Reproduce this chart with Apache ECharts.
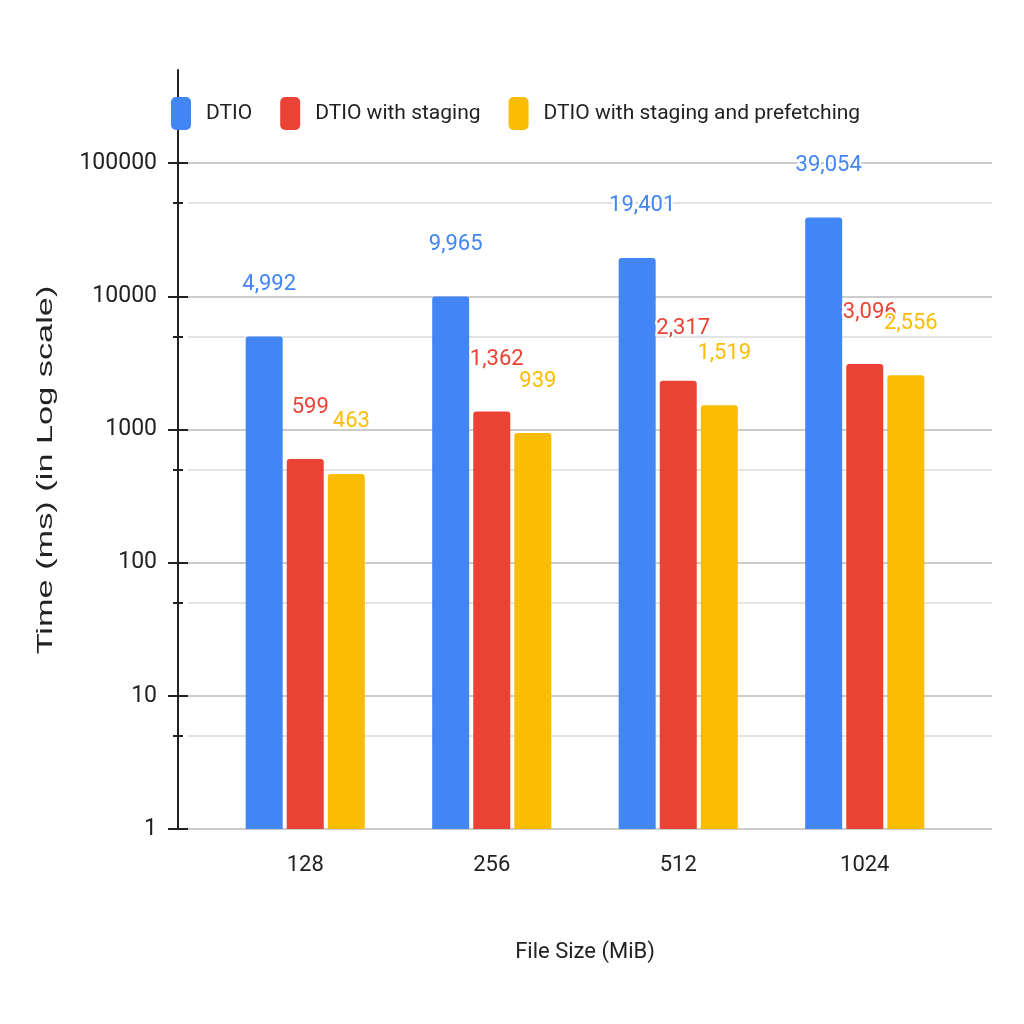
<!DOCTYPE html>
<html>
<head>
<meta charset="utf-8">
<script src="https://cdn.jsdelivr.net/npm/echarts@6/dist/echarts.min.js"></script>
<style>
  html, body { margin: 0; padding: 0; background: #fff; }
  #main { width: 1024px; height: 1024px; }
</style>
</head>
<body>
<div id="main"></div>
<script>
// data
var categories = ['128', '256', '512', '1024'];
var seriesNames = ['DTIO', 'DTIO with staging', 'DTIO with staging and prefetching'];
var dtio = [4992, 9965, 19401, 39054];
var staging = [599, 1362, 2317, 3096];
var prefetch = [463, 939, 1519, 2556];
var majorTicks = [1, 10, 100, 1000, 10000, 100000];
var minorTicks = [5, 50, 500, 5000, 50000];

var colors = ['#4285F4', '#EA4335', '#FBBC04'];
var narrow = '"Liberation Sans Narrow", "Arial Narrow", Roboto, sans-serif';

// grid lines + ticks as marklines (so they stop at the axis like the original)
var gridLines = [];
majorTicks.forEach(function (v) {
    gridLines.push([{x: 188, yAxis: v, lineStyle: {color: '#cccccc', width: 2, type: 'solid'}}, {x: 992, yAxis: v}]);
    gridLines.push([{x: 168, yAxis: v, lineStyle: {color: '#222', width: 2, type: 'solid'}}, {x: 188, yAxis: v}]);
});
minorTicks.forEach(function (v) {
    gridLines.push([{x: 188, yAxis: v, lineStyle: {color: '#e3e3e3', width: 2, type: 'solid'}}, {x: 992, yAxis: v}]);
    gridLines.push([{x: 173, yAxis: v, lineStyle: {color: '#222', width: 2, type: 'solid'}}, {x: 183, yAxis: v}]);
});

function barSeries(name, data, idx) {
    var s = {
        name: name,
        type: 'bar',
        data: data,
        barWidth: 37,
        barGap: '11%',
        clip: false,
        itemStyle: {color: colors[idx], borderRadius: [3, 3, 0, 0]},
        label: {
            show: true,
            position: 'top',
            distance: 41,
            offset: [5, 0],
            color: colors[idx],
            fontSize: 22,
            fontFamily: narrow,
            textBorderColor: '#fff',
            textBorderWidth: 4,
            formatter: function (p) { return p.value.toLocaleString('en-US'); }
        }
    };
    if (idx === 0) {
        s.markLine = {
            silent: true,
            symbol: 'none',
            z: 1,
            animation: false,
            label: {show: false},
            lineStyle: {type: 'solid'},
            data: gridLines
        };
    }
    return s;
}

var myChart = echarts.init(document.getElementById('main'));
var option = {
    animation: false,
    backgroundColor: '#fff',
    color: colors,
    legend: {
        data: seriesNames,
        left: 166,
        top: 92,
        itemWidth: 20,
        itemHeight: 33,
        itemGap: 28,
        icon: 'roundRect',
        textStyle: {
            fontSize: 21,
            fontFamily: narrow,
            color: '#222',
            padding: [0, 0, 0, 10]
        }
    },
    grid: {
        left: 212,
        right: 66,
        top: 70,
        bottom: 195
    },
    xAxis: {
        type: 'category',
        data: categories,
        axisLine: {show: false},
        axisTick: {show: false},
        axisLabel: {
            margin: 25,
            fontSize: 22,
            fontFamily: narrow,
            color: '#222'
        },
        name: 'File Size (MiB)',
        nameLocation: 'middle',
        nameGap: 112,
        nameTextStyle: {fontSize: 22, fontFamily: narrow, color: '#222'}
    },
    yAxis: {
        type: 'log',
        logBase: 10,
        min: 1,
        max: 500000,
        offset: 34,
        axisLine: {show: true, lineStyle: {color: '#222', width: 2}},
        axisTick: {show: false},
        splitLine: {show: false},
        axisLabel: {
            margin: 21,
            fontSize: 23,
            fontFamily: narrow,
            color: '#222',
            showMaxLabel: false,
            formatter: function (v) {
                var l = Math.log10(v);
                if (Math.abs(l - Math.round(l)) > 1e-6) return '';
                return String(Math.round(v));
            }
        }
    },
    graphic: [{
        type: 'text',
        x: 46,
        y: 470,
        rotation: Math.PI / 2,
        scaleX: 1.56,
        style: {
            text: 'Time (ms) (in Log scale)',
            font: '22px "Liberation Sans", Arial, sans-serif',
            fill: '#222',
            align: 'center',
            verticalAlign: 'middle',
            textAlign: 'center',
            textVerticalAlign: 'middle'
        }
    }],
    series: [
        barSeries(seriesNames[0], dtio, 0),
        barSeries(seriesNames[1], staging, 1),
        barSeries(seriesNames[2], prefetch, 2)
    ]
};

myChart.setOption(option);
window.onresize = myChart.resize;
</script>
</body>
</html>
